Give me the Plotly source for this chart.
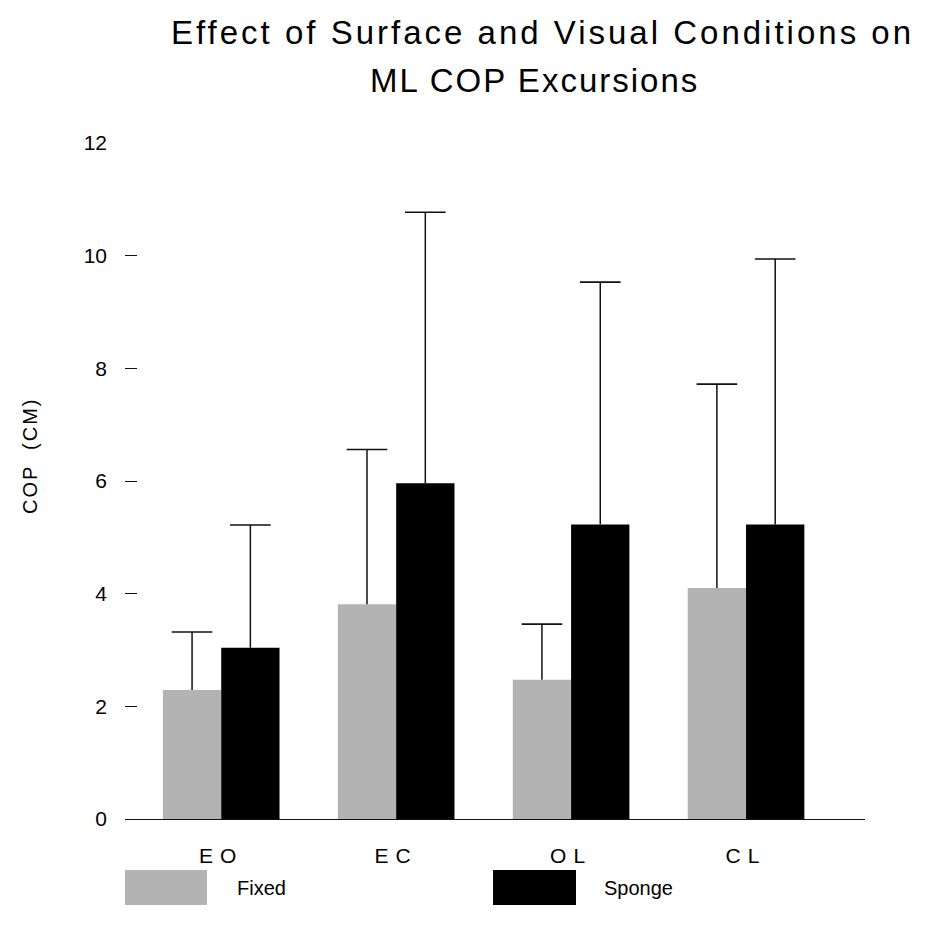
import plotly.graph_objects as go

# Balance conditions and series
conditions = ["EO", "EC", "OL", "CL"]
series_names = ["Fixed", "Sponge"]

# Mean ML centre-of-pressure excursion (cm)
fixed_mean = [2.29, 3.81, 2.47, 4.10]
sponge_mean = [3.04, 5.96, 5.23, 5.23]

# Upper error (SD, cm)
fixed_sd = [1.03, 2.75, 0.99, 3.62]
sponge_sd = [2.18, 4.81, 4.30, 4.71]

y_ticks = [0, 2, 4, 6, 8, 10, 12]

colors = {"Fixed": "#b3b3b3", "Sponge": "#000000"}

W, H = 925, 931
L, R, T, B = 125, 60, 143, 112
PW, PH = W - L - R, H - T - B


def px_x(px):
    return (px - L) / PW


def px_y(py):
    return (H - B - py) / PH


FONT = "Liberation Sans, Arial, Helvetica, sans-serif"
BAR_W = 1 / 3          # each bar takes a third of a category slot
ERR_COLOR = "#111111"

positions = list(range(len(conditions)))
series = [
    ("Fixed", fixed_mean, fixed_sd, -BAR_W),
    ("Sponge", sponge_mean, sponge_sd, 0.0),
]

fig = go.Figure()
for name, mean, sd, off in series:
    # bar with a plain vertical whisker (caps added separately)
    fig.add_trace(go.Bar(
        name=name, x=positions, y=mean, width=BAR_W, offset=off,
        marker=dict(color=colors[name], line=dict(width=0)),
        error_y=dict(type="data", array=sd, arrayminus=[0] * len(sd), symmetric=False,
                     color=ERR_COLOR, thickness=1.5, width=0),
        showlegend=False,
    ))
for name, mean, sd, off in series:
    # whisker caps at mean + SD
    fig.add_trace(go.Scatter(
        x=[p + off + BAR_W / 2 for p in positions],
        y=[m + s for m, s in zip(mean, sd)],
        mode="markers",
        marker=dict(symbol="line-ew-open", size=29, color=ERR_COLOR,
                    line=dict(width=1.6, color=ERR_COLOR)),
        showlegend=False, hoverinfo="skip",
    ))

fig.update_layout(
    width=W, height=H,
    margin=dict(l=L, r=R, t=T, b=B, pad=0),
    paper_bgcolor="white", plot_bgcolor="white",
    font=dict(family=FONT, size=18, color="black"),
    xaxis=dict(
        range=[-0.55, 3.68],
        showline=True, linecolor=ERR_COLOR, linewidth=1.3,
        showgrid=False, zeroline=False, ticks="",
        tickvals=positions,
        ticktext=['<span style="letter-spacing:7px">%s</span>' % c for c in conditions],
        tickfont=dict(size=21, family=FONT),
        ticklabelstandoff=18,
    ),
    yaxis=dict(
        range=[0, 12], tickvals=y_ticks,
        showline=False, showgrid=False, zeroline=False,
        ticks="inside", ticklen=12, tickwidth=1, tickcolor=ERR_COLOR,
        tickfont=dict(size=21, family=FONT),
        ticklabelstandoff=17,
    ),
)

fig.add_annotation(text='<span style="letter-spacing:3px">Effect of Surface and Visual Conditions on</span>',
                   xref="paper", yref="paper", x=px_x(542), y=px_y(32),
                   xanchor="center", yanchor="middle", showarrow=False,
                   font=dict(size=33, family=FONT, color="black"))
fig.add_annotation(text='<span style="letter-spacing:2px">ML COP Excursions</span>',
                   xref="paper", yref="paper", x=px_x(534), y=px_y(80),
                   xanchor="center", yanchor="middle", showarrow=False,
                   font=dict(size=33, family=FONT, color="black"))

# Y-axis title
fig.add_annotation(text='<span style="letter-spacing:2px">COP  (CM)</span>',
                   xref="paper", yref="paper", x=px_x(30), y=px_y(456),
                   xanchor="center", yanchor="middle", showarrow=False, textangle=-90,
                   font=dict(size=20, family=FONT, color="black"))

# Legend swatches and labels below the axis
legend_pos = {"Fixed": (125, 207, 235), "Sponge": (493, 576, 602)}
for name in series_names:
    x0, x1, xt = legend_pos[name]
    fig.add_shape(type="rect", xref="paper", yref="paper",
                  x0=px_x(x0), x1=px_x(x1), y0=px_y(905), y1=px_y(870),
                  fillcolor=colors[name], line=dict(width=0))
    fig.add_annotation(text=name, xref="paper", yref="paper",
                       x=px_x(xt), y=px_y(888), xanchor="left", yanchor="middle",
                       showarrow=False, font=dict(size=20, family=FONT, color="black"))

fig.write_html("out.html")
